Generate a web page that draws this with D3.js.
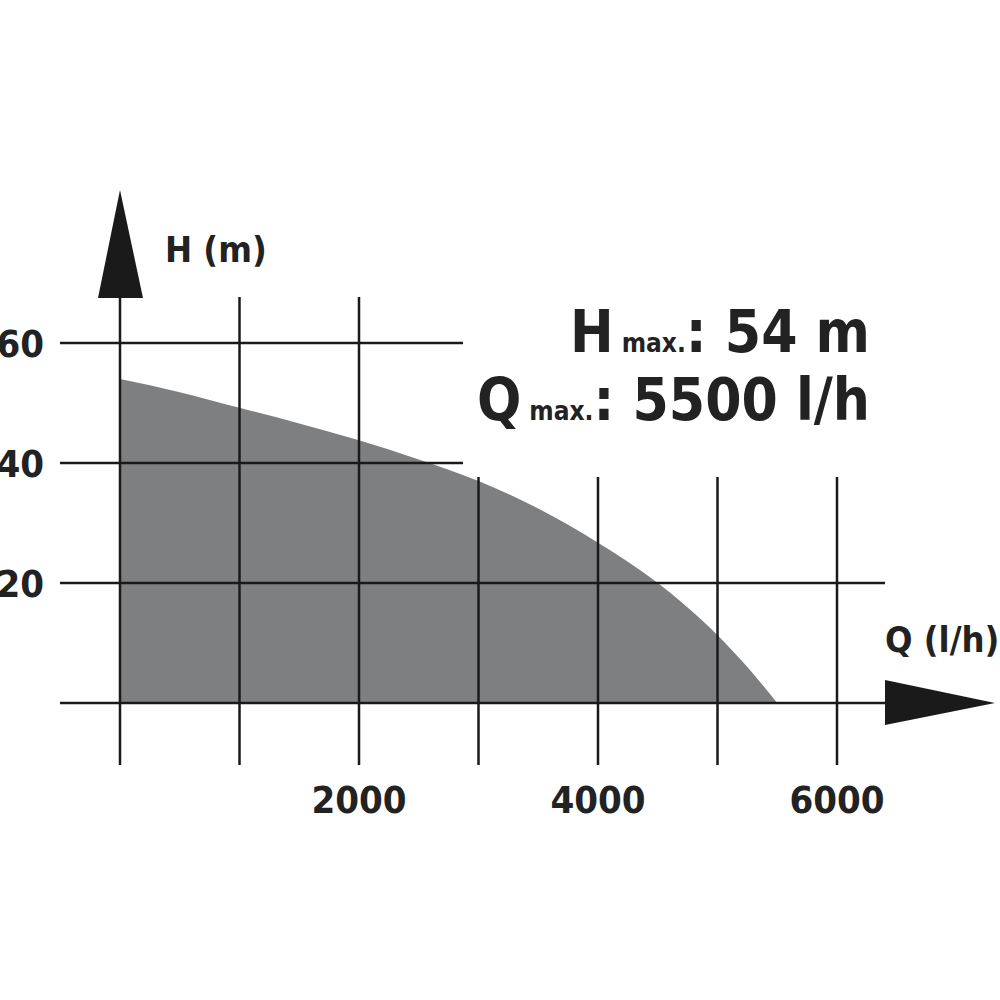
<!DOCTYPE html>
<html><head><meta charset="utf-8">
<script src="https://cdn.jsdelivr.net/npm/d3@7"></script>
<style>body{margin:0;background:#fff}text{font-family:"DejaVu Sans Condensed","DejaVu Sans",sans-serif;font-weight:bold;fill:#222}</style>
</head><body>
<svg id="c" width="1000" height="1000"></svg>
<script>
// pump curve: flow (l/h) vs head (m)
var flow = [0, 500, 1000, 1500, 2000, 2500, 3000, 3500, 4000, 4500, 5000, 5250, 5500];
var head = [54, 51.8, 49.2, 46.6, 43.8, 40.6, 37, 32.4, 26.7, 20, 11.3, 6, 0];
var xTicks = [2000, 4000, 6000];
var yTicks = [20, 40, 60];
var vLong = [0, 1000, 2000];
var vShort = [3000, 4000, 5000, 6000];

var svg = d3.select("#c");
var x = d3.scaleLinear().domain([0, 6000]).range([120, 837]);
var y = d3.scaleLinear().domain([0, 60]).range([703, 343]);

var area = d3.area().x(function(d){ return x(d[0]); }).y0(y(0)).y1(function(d){ return y(d[1]); }).curve(d3.curveMonotoneX);
svg.append("path").datum(d3.zip(flow, head)).attr("d", area).attr("fill", "#7e7f81");

var ink = "#1a1a1a";
function line(x1, y1, x2, y2) {
	svg.append("line").attr("x1", x1).attr("y1", y1).attr("x2", x2).attr("y2", y2)
		.attr("stroke", ink).attr("stroke-width", 2.5);
}
// horizontal grid
line(60, y(60), 463, y(60));
line(60, y(40), 463, y(40));
line(60, y(20), 885, y(20));
line(60, y(0), 890, y(0));
// vertical grid
vLong.forEach(function(v){ line(x(v), 297, x(v), 765); });
vShort.forEach(function(v){ line(x(v), 477, x(v), 765); });

// arrows
svg.append("path").attr("d", "M120,190 L143,298 L98,298 Z").attr("fill", ink);
svg.append("path").attr("d", "M885,680 L995,703 L885,725 Z").attr("fill", ink);

// tick labels
yTicks.forEach(function(v){
	svg.append("text").attr("x", 44).attr("y", y(v) + 14).attr("text-anchor", "end")
		.attr("font-size", 38).text(v);
});
xTicks.forEach(function(v){
	svg.append("text").attr("x", x(v)).attr("y", 813).attr("text-anchor", "middle")
		.attr("font-size", 38).text(v);
});
svg.append("text").attr("x", 165).attr("y", 262).attr("font-size", 36).text("H (m)");
svg.append("text").attr("x", 885).attr("y", 652).attr("font-size", 36).text("Q (l/h)");

// specs
var t1 = svg.append("text").attr("x", 870).attr("y", 352).attr("text-anchor", "end").attr("font-size", 58);
t1.append("tspan").text("H");
t1.append("tspan").attr("font-size", 26).text(" max.");
t1.append("tspan").text(": 54 m");
var t2 = svg.append("text").attr("x", 870).attr("y", 420).attr("text-anchor", "end").attr("font-size", 58);
t2.append("tspan").text("Q");
t2.append("tspan").attr("font-size", 26).text(" max.");
t2.append("tspan").text(": 5500 l/h");
</script>
</body></html>
